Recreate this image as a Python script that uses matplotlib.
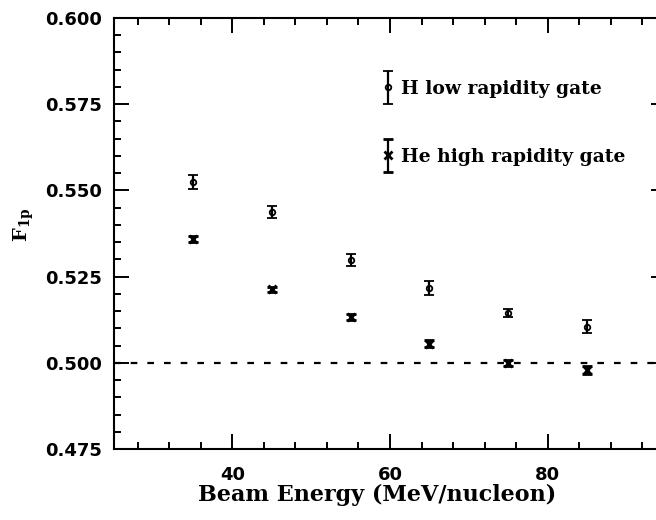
import numpy as np
import matplotlib
matplotlib.use('Agg')
import matplotlib.pyplot as plt
from matplotlib.ticker import MultipleLocator
from matplotlib.container import ErrorbarContainer
from matplotlib.legend_handler import HandlerErrorbar

# beam energies (MeV/nucleon)
energy = [35, 45, 55, 65, 75, 85]

# F_1p for H, low rapidity gate
h_low = [0.5525, 0.5438, 0.5298, 0.5218, 0.5144, 0.5105]
h_low_err = [0.0020, 0.0017, 0.0017, 0.0020, 0.0012, 0.0018]

# F_1p for He, high rapidity gate
he_high = [0.5359, 0.5213, 0.5132, 0.5055, 0.4999, 0.4979]
he_high_err = [0.0008, 0.0007, 0.0009, 0.0010, 0.0009, 0.0012]

labels = ['H low rapidity gate', 'He high rapidity gate']
reference_level = 0.5

plt.rcParams['mathtext.fontset'] = 'dejavuserif'

fig = plt.figure(figsize=(6.56, 5.2), dpi=100)
ax = fig.add_axes([0.1738, 0.1365, 0.8415, 0.829])

eb1 = ax.errorbar(energy, h_low, yerr=h_low_err, fmt='o', color='black',
                  mfc='none', ms=4, mew=1.3, elinewidth=1.6, capsize=3.5,
                  capthick=2, label=labels[0])
eb2 = ax.errorbar(energy, he_high, yerr=he_high_err, fmt='x', color='black',
                  ms=6, mew=2, elinewidth=1.6, capsize=3.5, capthick=2,
                  label=labels[1])

ax.axhline(reference_level, color='black', lw=1.6, ls=(0, (3, 4.5)))

ax.set_xlim(25, 95)
ax.set_ylim(0.475, 0.600)
ax.xaxis.set_major_locator(MultipleLocator(20))
ax.xaxis.set_minor_locator(MultipleLocator(4))
ax.yaxis.set_major_locator(MultipleLocator(0.025))
ax.yaxis.set_minor_locator(MultipleLocator(0.005))
ax.yaxis.set_major_formatter(plt.FormatStrFormatter('%.3f'))

ax.tick_params(which='both', direction='in', top=True, right=True,
               width=1.4, labelsize=13, colors='black')
ax.tick_params(which='major', length=11, pad=9)
ax.tick_params(axis='x', which='major', pad=12)
ax.tick_params(which='minor', length=5)
for lbl in ax.get_xticklabels() + ax.get_yticklabels():
    lbl.set_fontweight('bold')
for sp in ax.spines.values():
    sp.set_linewidth(1.5)

ax.set_xlabel('Beam Energy (MeV/nucleon)', family='DejaVu Serif',
              fontsize=16, fontweight='bold')
ax.xaxis.set_label_coords(0.477, -0.08)
ax.set_ylabel(r'$\mathbf{F_{1p}}$', fontsize=14)
ax.yaxis.set_label_coords(-0.141, 0.52)

ax.legend(handles=[eb1, eb2], loc='upper left',
          bbox_to_anchor=(0.49, 0.857), frameon=False,
          handlelength=0.4, handletextpad=0.5, labelspacing=2.67,
          borderpad=0, borderaxespad=0,
          prop={'family': 'DejaVu Serif', 'weight': 'bold', 'size': 13.5},
          handler_map={ErrorbarContainer: HandlerErrorbar(yerr_size=0.88)})

fig.savefig('out.png', dpi=100)
